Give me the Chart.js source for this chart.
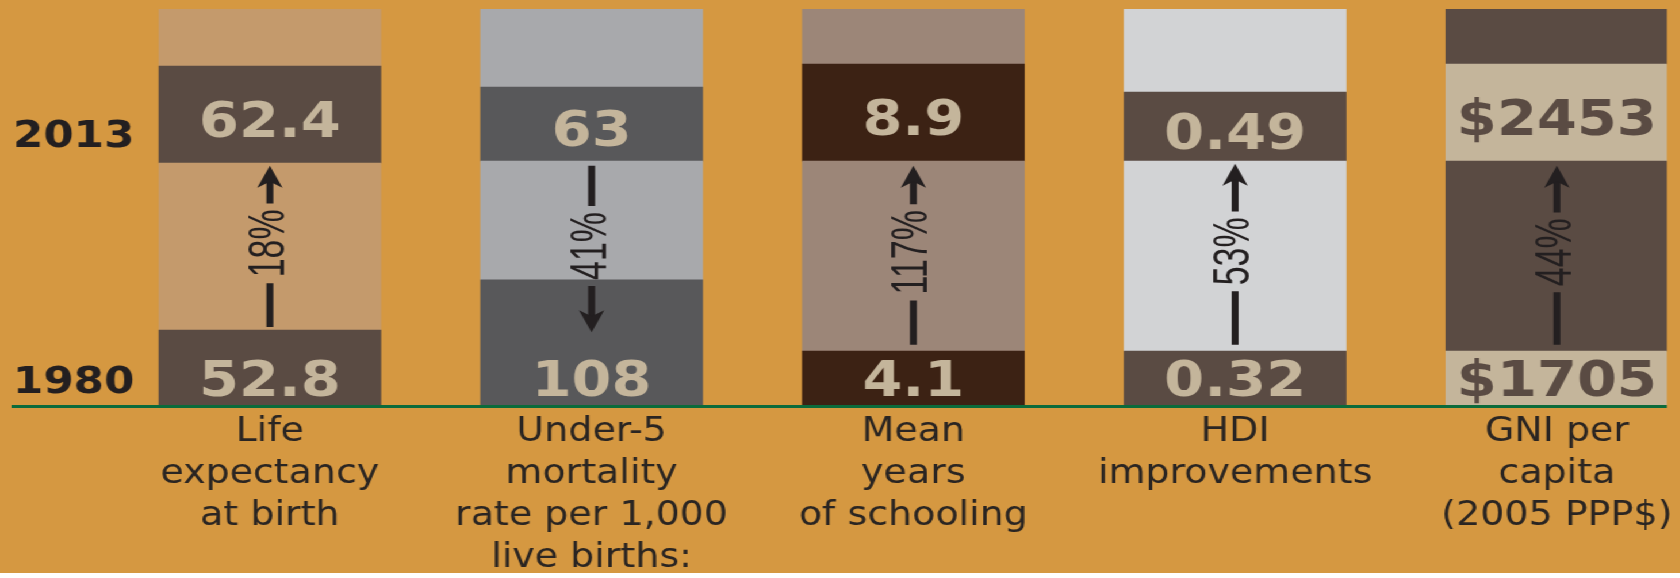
<!DOCTYPE html>
<html>
<head>
<meta charset="utf-8">
<title>HDI progress 1980 - 2013</title>
<script src="https://cdn.jsdelivr.net/npm/chart.js@4.4.0/dist/chart.umd.min.js"></script>
<style>
    html, body { margin: 0; padding: 0; background: #ffffff; overflow: hidden; }
    /* the source graphic is stretched sideways, so the canvas gets the same stretch */
    #wrap { width: 1461px; height: 573px; background: #D59841; transform: scaleX(1.15); transform-origin: 0 0; }
    canvas { display: block; }
</style>
</head>
<body>
<div id="wrap"><canvas id="hdiChart" width="1461" height="573"></canvas></div>
<script>
// --- data ---
const categoryLabels = [
    ['Life', 'expectancy', 'at birth'],
    ['Under-5', 'mortality', 'rate per 1,000', 'live births:'],
    ['Mean', 'years', 'of schooling'],
    ['HDI', 'improvements'],
    ['GNI per', 'capita', '(2005 PPP$)']
];
const yearLabels = ['1980', '2013'];
const yearTickValues = [5.6, 67.7];

const values1980 = [52.8, 108, 4.1, 0.32, 1705];
const values2013 = [62.4, 63, 8.9, 0.49, 2453];
const valuePrefix = ['', '', '', '', '$'];
const pctChange = [18, 41, 117, 53, 44];

// band heights of each column (share of column height, %)
const baseBand = [18.9, 31.6, 13.6, 13.6, 13.6];
const midBand  = [42.2, 30.0, 48.0, 48.0, 48.0];
const topBand  = [24.5, 18.7, 24.5, 17.4, 24.5];
const restBand = [14.4, 19.7, 13.9, 21.0, 13.9];

// arrow span in the same units
const arrowLow  = [19.7, 18.4, 15.2, 15.2, 15.2];
const arrowHigh = [60.4, 60.4, 60.4, 60.9, 60.4];

// colours
const valueBandColors = ['#5A4B43', '#58585A', '#3C2214', '#5A4B43', '#C4B59B'];
const fillBandColors  = ['#C49A6C', '#A8A9AC', '#9C8678', '#D2D3D5', '#5A4B43'];
const valueTextColors = ['#C4B59B', '#C4B59B', '#C4B59B', '#C4B59B', '#5A4B43'];
const ink = '#231F20';

const toPoints = arr => arr.map((v, i) => ({ x: i, y: v }));

// value labels, arrows, percent text and the green base line
const bandLabelsPlugin = {
    id: 'bandLabels',
    afterDatasetsDraw(chart) {
        const ctx = chart.ctx;
        const xs = chart.scales.x;
        const ys = chart.scales.y;
        const area = chart.chartArea;
        ctx.save();

        ctx.fillStyle = '#0B6B3B';
        ctx.fillRect(10, area.bottom, area.right - 10, 3);

        categoryLabels.forEach((_, i) => {
            const x = xs.getPixelForValue(i);
            const yA = ys.getPixelForValue(baseBand[i] + midBand[i]);
            const yB = ys.getPixelForValue(baseBand[i] + midBand[i] + topBand[i]);

            ctx.font = 'bold 50px "DejaVu Sans"';
            ctx.textAlign = 'center';
            ctx.textBaseline = 'middle';
            ctx.fillStyle = valueTextColors[i];
            ctx.fillText(valuePrefix[i] + values2013[i], x, (yA + yB) / 2 + 9);
            ctx.fillText(valuePrefix[i] + values1980[i], x, ys.getPixelForValue(yearTickValues[0]));

            // arrow
            const up = values2013[i] > values1980[i];
            const yLo = ys.getPixelForValue(arrowLow[i]);
            const yHi = ys.getPixelForValue(arrowHigh[i]);
            const mid = (yLo + yHi) / 2 - 3;
            const txt = pctChange[i] + '%';
            ctx.font = '44px "Liberation Sans"';
            const half = ctx.measureText(txt).width * 0.77 / 2;
            const gap = 6;

            ctx.strokeStyle = ink;
            ctx.fillStyle = ink;
            ctx.lineWidth = 6;
            ctx.beginPath();
            ctx.moveTo(x, up ? yLo : yLo - 14);
            ctx.lineTo(x, mid + half + gap);
            ctx.moveTo(x, mid - half - gap);
            ctx.lineTo(x, up ? yHi + 14 : yHi);
            ctx.stroke();

            const tip = up ? yHi : yLo;
            const b = up ? 1 : -1;
            ctx.beginPath();
            ctx.moveTo(x, tip);
            ctx.lineTo(x + 11, tip + b * 22);
            ctx.lineTo(x, tip + b * 16);
            ctx.lineTo(x - 11, tip + b * 22);
            ctx.closePath();
            ctx.fill();

            ctx.save();
            ctx.translate(x, mid);
            ctx.rotate(-Math.PI / 2);
            ctx.scale(0.77, 1);
            ctx.fillText(txt, 0, 0);
            ctx.restore();
        });
        ctx.restore();
    }
};

new Chart(document.getElementById('hdiChart'), {
    type: 'bar',
    data: {
        datasets: [
            { label: '1980', data: toPoints(baseBand), backgroundColor: valueBandColors },
            { label: 'change', data: toPoints(midBand), backgroundColor: fillBandColors },
            { label: '2013', data: toPoints(topBand), backgroundColor: valueBandColors },
            { label: 'rest', data: toPoints(restBand), backgroundColor: fillBandColors }
        ]
    },
    options: {
        responsive: false,
        animation: false,
        devicePixelRatio: 1,
        barThickness: 193,
        borderWidth: 0,
        layout: { padding: { top: 9, right: 10, left: 0, bottom: 0 } },
        plugins: {
            legend: { display: false },
            tooltip: { enabled: false }
        },
        scales: {
            x: {
                type: 'linear',
                stacked: true,
                offset: false,
                min: -0.392,
                max: 4.342,
                grid: { display: false, drawTicks: false, offset: false },
                border: { display: false },
                afterBuildTicks: s => { s.ticks = categoryLabels.map((_, i) => ({ value: i })); },
                afterFit: s => { s.height = 168; },
                ticks: {
                    autoSkip: false,
                    maxRotation: 0,
                    padding: 6,
                    color: '#2A2522',
                    font: { family: 'DejaVu Sans', size: 33, lineHeight: 1.28 },
                    callback: (value, index) => categoryLabels[index]
                }
            },
            y: {
                stacked: true,
                min: 0,
                max: 100,
                grid: { display: false, drawTicks: false },
                border: { display: false },
                afterBuildTicks: s => { s.ticks = yearTickValues.map(v => ({ value: v })); },
                afterFit: s => {
                    s.width = 125;
                    // year labels sit well inside the plot, no extra room needed
                    s.paddingTop = 0;
                    s.paddingBottom = 0;
                },
                ticks: {
                    padding: 8,
                    color: ink,
                    font: { family: 'DejaVu Sans', size: 38, weight: 'bold' },
                    callback: (value, index) => yearLabels[index]
                }
            }
        }
    },
    plugins: [bandLabelsPlugin]
});
</script>
</body>
</html>
